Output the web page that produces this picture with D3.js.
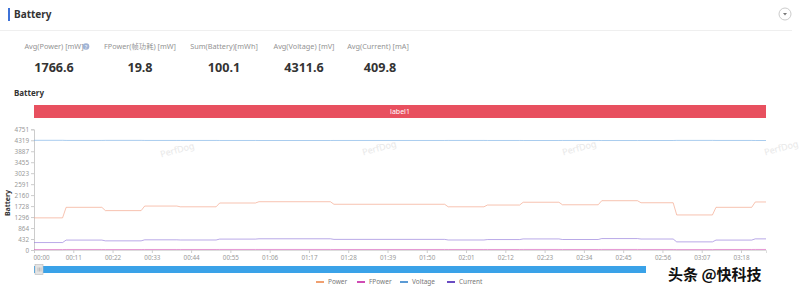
<!DOCTYPE html>
<html><head><meta charset="utf-8">
<script src="https://cdn.jsdelivr.net/npm/d3@7/dist/d3.min.js"></script>
<style>
html,body{margin:0;padding:0;background:#fff;}
svg{display:block;font-family:"Noto Sans","Noto Sans CJK SC",sans-serif;}
</style></head>
<body>
<svg id="c" width="800" height="289"></svg>
<script>
// ---- data ----
const statLabels = ["Avg(Power) [mW]", "FPower(帧功耗) [mW]", "Sum(Battery)[mWh]", "Avg(Voltage) [mV]", "Avg(Current) [mA]"];
const statValues = ["1766.6", "19.8", "100.1", "4311.6", "409.8"];
const segStart = [0, 9, 20, 31, 41, 52, 63, 84, 116, 127, 137, 148, 159, 170, 180, 191, 202];
const endTime = 205;
const power   = [1265, 1680, 1550, 1730, 1700, 1850, 1900, 1800, 1700, 1770, 1880, 1780, 1940, 1860, 1380, 1680, 1890];
const fpower  = [18, 20, 19, 20, 20, 21, 21, 20, 20, 20, 21, 20, 21, 20, 17, 20, 21];
const voltage = [4318, 4313, 4315, 4312, 4312, 4311, 4310, 4311, 4312, 4311, 4310, 4311, 4309, 4310, 4314, 4312, 4310];
const current = [293, 390, 360, 401, 394, 429, 441, 418, 394, 411, 436, 413, 450, 432, 320, 390, 438];
const yTicks = [0, 432, 864, 1296, 1728, 2160, 2591, 3023, 3455, 3887, 4319, 4751];
const xTicks = [0, 11, 22, 33, 44, 55, 66, 77, 88, 99, 110, 121, 132, 143, 154, 165, 176, 187, 198];
const seriesNames = ["Power", "FPower", "Voltage", "Current"];
const seriesColors = ["#f29a7c", "#d452b6", "#6fa9e2", "#8a6fd6"];
const legendColors = ["#f0a070", "#d04cb4", "#5b9bd5", "#6a4cc2"];

const svg = d3.select("#c");

// header
svg.append("rect").attr("x", 8).attr("y", 8).attr("width", 2).attr("height", 13).attr("fill", "#3d72d8");
svg.append("text").attr("x", 14).attr("y", 18).attr("font-size", 10).attr("font-weight", "bold").attr("fill", "#333").text("Battery");
svg.append("circle").attr("cx", 785).attr("cy", 14).attr("r", 6).attr("fill", "#fff").attr("stroke", "#ccc");
svg.append("path").attr("d", "M783,13 L787,13 L785,15.5 Z").attr("fill", "#777");
svg.append("line").attr("x1", 0).attr("x2", 792).attr("y1", 30.5).attr("y2", 30.5).attr("stroke", "#efefef");

// stats
const statX = [54, 140, 224, 304, 378];
statLabels.forEach((l, i) => {
  svg.append("text").attr("x", statX[i]).attr("y", 49).attr("text-anchor", "middle")
    .attr("font-size", 7.3).attr("fill", "#939393").text(l);
  svg.append("text").attr("x", statX[i] + (i === 4 ? 2 : 0)).attr("y", 71.5).attr("text-anchor", "middle")
    .attr("font-size", 12.6).attr("font-weight", "bold").attr("fill", "#333").text(statValues[i]);
});
svg.append("circle").attr("cx", 86).attr("cy", 46.5).attr("r", 3.3).attr("fill", "#9fb3d6");
svg.append("text").attr("x", 86).attr("y", 48.8).attr("text-anchor", "middle").attr("font-size", 5.5).attr("fill", "#fff").text("?");

svg.append("text").attr("x", 14).attr("y", 96).attr("font-size", 8).attr("font-weight", "bold").attr("fill", "#333").text("Battery");

// scales
const x = d3.scaleLinear().domain([0, endTime]).range([34, 766]);
const y = d3.scaleLinear().domain([0, 4751]).range([250, 129.3]);

// label bar
svg.append("rect").attr("x", x(0)).attr("y", 105).attr("width", x(endTime) - x(0)).attr("height", 13).attr("fill", "#e8505f");
svg.append("text").attr("x", 400).attr("y", 114).attr("text-anchor", "middle").attr("font-size", 7).attr("fill", "#fff").text("label1");

// watermarks
[[178, 153], [380, 151], [580, 151], [782, 151]].forEach(p => {
  svg.append("text").attr("transform", `translate(${p[0]},${p[1]}) rotate(-15)`).attr("text-anchor", "middle")
    .attr("font-size", 9).attr("fill", "#e8e8e8").text("PerfDog");
});

// y axis
const yAxis = svg.append("g").attr("transform", "translate(34,0)")
  .call(d3.axisLeft(y).tickValues(yTicks).tickSize(3).tickPadding(2).tickFormat(d => d));
yAxis.select(".domain").attr("stroke", "#ccc");
yAxis.selectAll(".tick line").attr("stroke", "#ccc");
yAxis.selectAll("text").attr("font-size", 6.3).attr("fill", "#999").attr("font-family", "Noto Sans");
svg.append("text").attr("transform", "translate(10,203) rotate(-90)").attr("text-anchor", "middle")
  .attr("font-size", 7).attr("font-weight", "bold").attr("fill", "#333").text("Battery");

// x axis
const fmt = t => String(Math.floor(t / 60)).padStart(2, "0") + ":" + String(t % 60).padStart(2, "0");
const xAxis = svg.append("g").attr("transform", "translate(0,250)")
  .call(d3.axisBottom(x).tickValues(xTicks).tickSize(3).tickPadding(3).tickFormat(fmt));
xAxis.select(".domain").attr("stroke", "#ddd");
xAxis.selectAll(".tick line").attr("stroke", "#ccc");
xAxis.selectAll("text").attr("font-size", 6.3).attr("fill", "#999").attr("font-family", "Noto Sans");
xAxis.selectAll(".tick text").filter(d => d === 0).attr("text-anchor", "start").attr("dx", -1);

// series
function pts(vals) {
  const out = [];
  vals.forEach((v, i) => {
    const s = segStart[i];
    const e = i < vals.length - 1 ? segStart[i + 1] - 1 : endTime;
    out.push([s, v], [e, v]);
  });
  return out;
}
const line = d3.line().x(d => x(d[0])).y(d => y(d[1]));
[power, fpower, voltage, current].forEach((vals, i) => {
  svg.append("path").datum(pts(vals)).attr("d", line).attr("fill", "none")
    .attr("stroke", seriesColors[i]).attr("stroke-width", 0.8).attr("stroke-opacity", 0.75);
});

// slider
svg.append("rect").attr("x", 34).attr("y", 266).attr("width", 612).attr("height", 7).attr("fill", "#3aa2e8");
svg.append("rect").attr("x", 35).attr("y", 264.5).attr("width", 8).attr("height", 10).attr("fill", "#e4e4e4").attr("stroke", "#bbb").attr("stroke-width", 0.6);
[38, 39.5, 41].forEach(px => svg.append("line").attr("x1", px).attr("x2", px).attr("y1", 267.5).attr("y2", 271.5).attr("stroke", "#999").attr("stroke-width", 0.5));

// legend
const legX = [316, 357, 400, 447];
seriesNames.forEach((n, i) => {
  svg.append("line").attr("x1", legX[i]).attr("x2", legX[i] + 8).attr("y1", 282).attr("y2", 282)
    .attr("stroke", legendColors[i]).attr("stroke-width", 2);
  svg.append("text").attr("x", legX[i] + 12).attr("y", 284.3).attr("font-size", 6.5).attr("fill", "#777").text(n);
});

// site watermark
svg.append("text").attr("x", 668).attr("y", 280).attr("font-size", 15).attr("font-weight", "bold")
  .attr("font-family", "Noto Sans CJK SC").attr("fill", "#111").attr("stroke", "#fff").attr("stroke-width", 3)
  .attr("paint-order", "stroke").text("头条 @快科技");
</script>
</body></html>
